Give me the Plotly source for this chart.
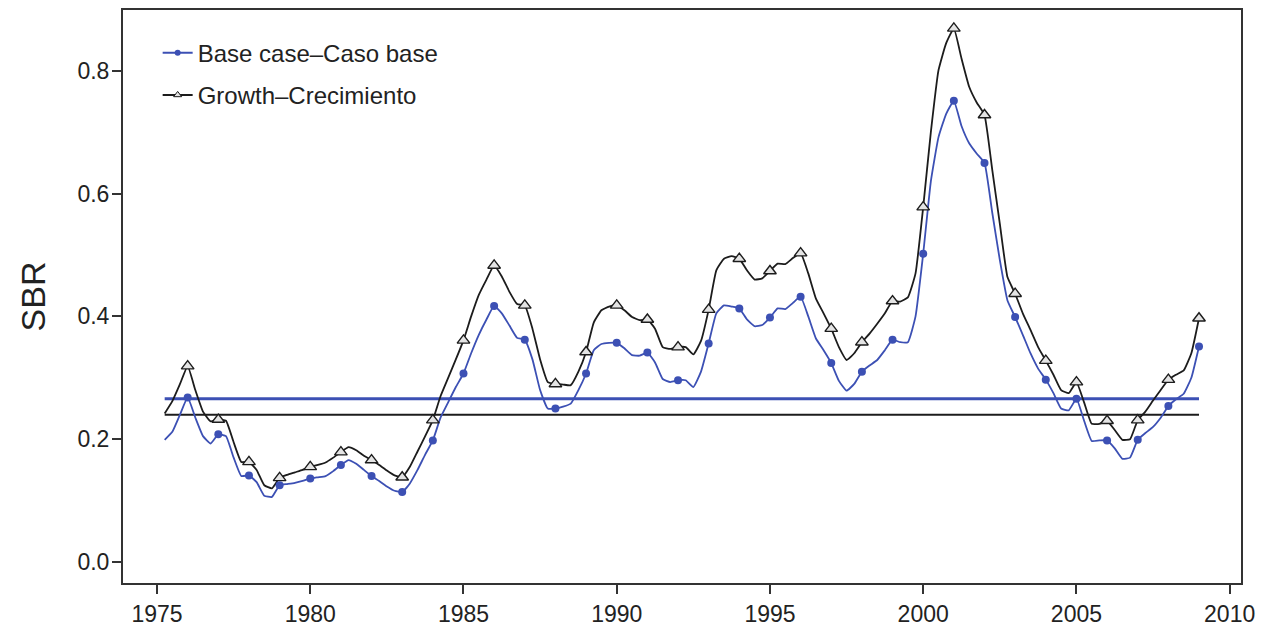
import plotly.graph_objects as go

# Quarterly time axis: 1975 Q2 (1975.25) through 2009 Q1 (2009.0)
start_year = 1975.25
step = 0.25

base_case = [
    0.199, 0.212, 0.240,                 # 1975.25-1975.75
    0.268, 0.235, 0.205, 0.193,          # 1976
    0.208, 0.205, 0.170, 0.140,          # 1977
    0.141, 0.130, 0.108, 0.106,          # 1978
    0.125, 0.127, 0.129, 0.132,          # 1979
    0.136, 0.138, 0.140, 0.148,          # 1980
    0.158, 0.166, 0.160, 0.150,          # 1981
    0.140, 0.132, 0.123, 0.116,          # 1982
    0.114, 0.128, 0.150, 0.175,          # 1983
    0.198, 0.235, 0.260, 0.285,          # 1984
    0.307, 0.340, 0.370, 0.395,          # 1985
    0.417, 0.405, 0.385, 0.365,          # 1986
    0.362, 0.330, 0.280, 0.250,          # 1987
    0.250, 0.253, 0.258, 0.280,          # 1988
    0.307, 0.345, 0.355, 0.357,          # 1989
    0.357, 0.348, 0.337, 0.336,          # 1990
    0.341, 0.325, 0.298, 0.293,          # 1991
    0.296, 0.296, 0.285, 0.310,          # 1992
    0.356, 0.405, 0.418, 0.416,          # 1993
    0.413, 0.395, 0.384, 0.386,          # 1994
    0.398, 0.413, 0.412, 0.422,          # 1995
    0.432, 0.400, 0.364, 0.345,          # 1996
    0.324, 0.295, 0.279, 0.290,          # 1997
    0.310, 0.320, 0.329, 0.345,          # 1998
    0.362, 0.358, 0.358, 0.400,          # 1999
    0.502, 0.620, 0.692, 0.730,          # 2000
    0.751, 0.710, 0.682, 0.665,          # 2001
    0.650, 0.570, 0.492, 0.426,          # 2002
    0.399, 0.370, 0.340, 0.315,          # 2003
    0.297, 0.275, 0.250, 0.247,          # 2004
    0.266, 0.230, 0.197, 0.198,          # 2005
    0.198, 0.185, 0.168, 0.170,          # 2006
    0.199, 0.210, 0.220, 0.235,          # 2007
    0.254, 0.265, 0.274, 0.300,          # 2008
    0.351,                               # 2009.0
]

growth = [
    0.242, 0.262, 0.290,                 # 1975.25-1975.75
    0.319, 0.280, 0.245, 0.229,          # 1976
    0.232, 0.230, 0.195, 0.163,          # 1977
    0.163, 0.150, 0.125, 0.120,          # 1978
    0.137, 0.142, 0.146, 0.150,          # 1979
    0.155, 0.158, 0.162, 0.170,          # 1980
    0.179, 0.187, 0.182, 0.173,          # 1981
    0.166, 0.158, 0.149, 0.141,          # 1982
    0.138, 0.155, 0.180, 0.205,          # 1983
    0.231, 0.270, 0.300, 0.330,          # 1984
    0.361, 0.400, 0.435, 0.460,          # 1985
    0.483, 0.465, 0.440, 0.420,          # 1986
    0.418, 0.380, 0.330, 0.293,          # 1987
    0.290, 0.289, 0.288, 0.310,          # 1988
    0.342, 0.390, 0.410, 0.416,          # 1989
    0.418, 0.410, 0.399, 0.394,          # 1990
    0.395, 0.380, 0.350, 0.347,          # 1991
    0.350, 0.350, 0.338, 0.360,          # 1992
    0.411, 0.475, 0.494, 0.498,          # 1993
    0.494, 0.475, 0.460, 0.462,          # 1994
    0.474, 0.486, 0.485, 0.495,          # 1995
    0.503, 0.470, 0.429, 0.405,          # 1996
    0.380, 0.350, 0.329, 0.340,          # 1997
    0.358, 0.372, 0.388, 0.405,          # 1998
    0.425, 0.424, 0.431, 0.470,          # 1999
    0.578, 0.700, 0.801, 0.845,          # 2000
    0.869, 0.820, 0.774, 0.748,          # 2001
    0.728, 0.640, 0.551, 0.464,          # 2002
    0.437, 0.405, 0.378, 0.350,          # 2003
    0.328, 0.305, 0.280, 0.275,          # 2004
    0.293, 0.260, 0.225, 0.225,          # 2005
    0.230, 0.215, 0.199, 0.200,          # 2006
    0.231, 0.245, 0.263, 0.280,          # 2007
    0.297, 0.305, 0.312, 0.340,          # 2008
    0.397,                               # 2009.0
]

# SBR at MSY reference levels
sbr_msy_base = 0.266
sbr_msy_growth = 0.240

x_ticks = [1975, 1980, 1985, 1990, 1995, 2000, 2005, 2010]
y_ticks = [0.0, 0.2, 0.4, 0.6, 0.8]
y_tick_text = ["0.0", "0.2", "0.4", "0.6", "0.8"]

name_base = "Base case\u2013Caso base"
name_growth = "Growth\u2013Crecimiento"

BLUE = "#3c50b4"
BLACK = "#1c1c1c"

n = len(base_case)
assert len(growth) == n
t = [start_year + step * i for i in range(n)]
yr_idx = [i for i, v in enumerate(t) if abs(v - round(v)) < 1e-9]

fig = go.Figure()

# reference lines
fig.add_trace(go.Scatter(x=[t[0], t[-1]], y=[sbr_msy_base, sbr_msy_base], mode="lines",
                         line=dict(color=BLUE, width=3), showlegend=False, hoverinfo="skip"))
fig.add_trace(go.Scatter(x=[t[0], t[-1]], y=[sbr_msy_growth, sbr_msy_growth], mode="lines",
                         line=dict(color=BLACK, width=2), showlegend=False, hoverinfo="skip"))

# series lines
fig.add_trace(go.Scatter(x=t, y=growth, mode="lines", line=dict(color=BLACK, width=1.8, shape="spline", smoothing=0.4),
                         showlegend=False))
fig.add_trace(go.Scatter(x=t, y=base_case, mode="lines", line=dict(color=BLUE, width=1.8, shape="spline", smoothing=0.4),
                         showlegend=False))

# yearly markers
fig.add_trace(go.Scatter(x=[t[i] for i in yr_idx], y=[growth[i] for i in yr_idx], mode="markers",
                         marker=dict(symbol="triangle-up", size=11, color="#e4e4e4",
                                     line=dict(color=BLACK, width=1.4)), showlegend=False))
fig.add_trace(go.Scatter(x=[t[i] for i in yr_idx], y=[base_case[i] for i in yr_idx], mode="markers",
                         marker=dict(symbol="circle", size=8, color=BLUE, line=dict(width=0)), showlegend=False))

# legend entries
fig.add_trace(go.Scatter(x=[None], y=[None], mode="lines+markers", name=name_base, legendgroup="a",
                         line=dict(color=BLUE, width=2), marker=dict(symbol="circle", size=6, color=BLUE)))
fig.add_trace(go.Scatter(x=[None], y=[None], mode="lines+markers", name=name_growth, legendgroup="b",
                         line=dict(color=BLACK, width=2),
                         marker=dict(symbol="triangle-up", size=7, color="#e4e4e4", line=dict(color=BLACK, width=1))))

axis_common = dict(showgrid=False, zeroline=False, showline=True, mirror=True, linecolor="#333333", linewidth=2,
                   ticks="outside", ticklen=9, tickwidth=1.5, tickcolor="#333333", automargin=False,
                   tickfont=dict(family="Liberation Sans, Arial, sans-serif", size=23, color="#222222"))

# The page body has an 8px margin, so the figure is sized to fit inside the window.
fig.update_layout(
    width=1260, height=622,
    margin=dict(l=115, r=27, t=2, b=47),
    paper_bgcolor="white", plot_bgcolor="white",
    font=dict(family="Liberation Sans, Arial, sans-serif", color="#222222"),
    xaxis=dict(range=[1973.89, 2010.37], tickvals=x_ticks, ticktext=[str(v) for v in x_ticks],
               ticklabelstandoff=0, **axis_common),
    yaxis=dict(range=[-0.0342, 0.899], tickvals=y_ticks, ticktext=y_tick_text,
               ticklabelstandoff=-2,
               title=dict(text="SBR", font=dict(size=34, color="#222222"), standoff=22), **axis_common),
    legend=dict(x=0.031, y=0.964, xanchor="left", yanchor="top", bgcolor="rgba(0,0,0,0)",
                borderwidth=0, font=dict(size=24, color="#222222"), tracegroupgap=8,
                itemwidth=30, traceorder="grouped"),
    showlegend=True,
)

fig.write_html("out.html")
